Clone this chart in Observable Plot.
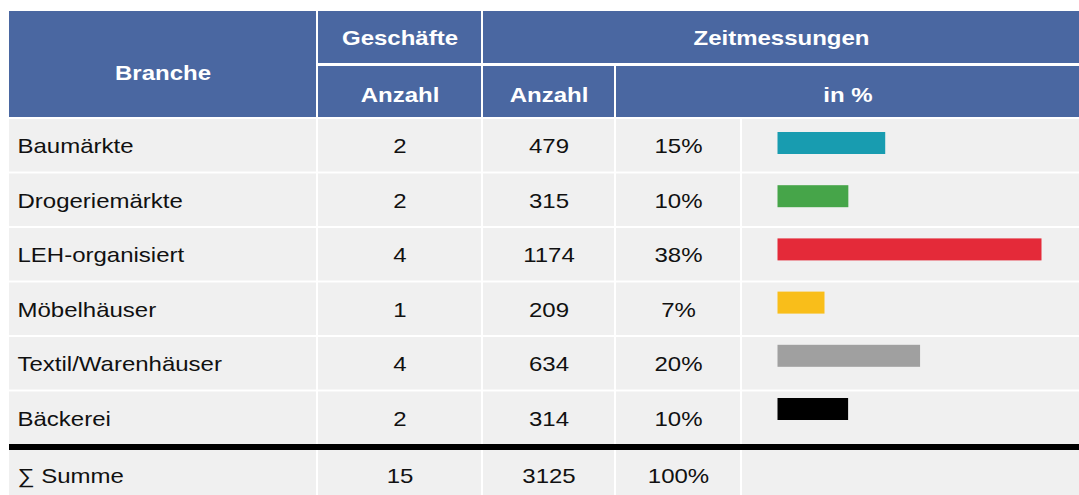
<!DOCTYPE html>
<html>
<head>
<meta charset="utf-8">
<script src="https://cdn.jsdelivr.net/npm/d3@7"></script>
<script src="https://cdn.jsdelivr.net/npm/@observablehq/plot@0.6"></script>
<style>
  html, body { margin: 0; padding: 0; background: #ffffff; }
  #chart { position: relative; width: 1079px; height: 495px; overflow: hidden; }
  #chart svg { position: absolute; left: 0; top: 0; }
</style>
</head>
<body>
<div id="chart"></div>
<script>
// ---- data ----
const branchen = ["Baumärkte", "Drogeriemärkte", "LEH-organisiert", "Möbelhäuser", "Textil/Warenhäuser", "Bäckerei"];
const geschaefte = [2, 2, 4, 1, 4, 2];
const messungen = [479, 315, 1174, 209, 634, 314];
const anteile = ["15%", "10%", "38%", "7%", "20%", "10%"];
const barColors = ["#189CB0", "#46A549", "#E42A39", "#F9BE1A", "#A0A0A0", "#000000"];
const summeLabel = "∑ Summe";
const summeGeschaefte = 15;
const summeMessungen = 3125;
const summeAnteil = "100%";
const headerTop = ["Branche", "Geschäfte", "Zeitmessungen"];
const headerSub = ["Anzahl", "Anzahl", "in %"];

// ---- layout (table chrome) ----
const FONT = "'Liberation Sans', Arial, Helvetica, sans-serif";
const HEADER_BLUE = "#4A67A1";
const CELL_BG = "#F0F0F0";
const TEXT = "#111111";
const STRETCH = 1.2;
const layoutCols = [
  {x1: 9, x2: 316}, {x1: 318, x2: 481}, {x1: 483, x2: 614}, {x1: 616, x2: 740}, {x1: 742, x2: 1079}
];
const textX = {branche: 17, geschaefte: 399.5, anzahl: 548.5, anteil: 678};
const headerCells = [
  {label: headerTop[0], x1: 9,   x2: 316,  y1: 11, y2: 117, ty: 73},
  {label: headerTop[1], x1: 318, x2: 481,  y1: 11, y2: 63,  ty: 38},
  {label: headerTop[2], x1: 483, x2: 1079, y1: 11, y2: 63,  ty: 38},
  {label: headerSub[0], x1: 318, x2: 481,  y1: 66, y2: 117, ty: 95},
  {label: headerSub[1], x1: 483, x2: 614,  y1: 66, y2: 117, ty: 95},
  {label: headerSub[2], x1: 616, x2: 1079, y1: 66, y2: 117, ty: 95}
];
const ROW_STEP = 54.5;
const BODY_TOP = 117;

// ---- table rows built from the data arrays ----
const rows = branchen.map((b, i) => ({
  branche: b, geschaefte: geschaefte[i], anzahl: messungen[i], anteil: anteile[i], color: barColors[i]
}));
const summe = {branche: summeLabel, geschaefte: summeGeschaefte, anzahl: summeMessungen, anteil: summeAnteil};
const rowKeys = [...branchen, summeLabel];
const cells = rowKeys.flatMap(r => layoutCols.map(c => ({row: r, x1: c.x1, x2: c.x2})));

function textMarks(data, dy) {
  const common = {y: "branche", fill: TEXT, dy};
  return [
    Plot.text(data, {...common, x: textX.branche, text: "branche", textAnchor: "start"}),
    Plot.text(data, {...common, x: textX.geschaefte, text: d => String(d.geschaefte)}),
    Plot.text(data, {...common, x: textX.anzahl, text: d => String(d.anzahl)}),
    Plot.text(data, {...common, x: textX.anteil, text: "anteil"})
  ];
}

// the reference typeface is horizontally wider than Arial: stretch glyphs about their anchor
function stretchTexts(svg) {
  svg.querySelectorAll("text").forEach(t => {
    const tr = t.getAttribute("transform") || "";
    if (t.hasAttribute("x")) {
      const x = +t.getAttribute("x") || 0;
      t.setAttribute("x", 0);
      t.setAttribute("transform", `${tr} translate(${x},0) scale(${STRETCH},1)`);
    } else {
      t.setAttribute("transform", `${tr} scale(${STRETCH},1)`);
    }
  });
  return svg;
}

const chart = document.getElementById("chart");

// body table
const bodyPlot = Plot.plot({
  width: 1079, height: 495, margin: 0,
  style: {background: "transparent", fontFamily: FONT, fontSize: "20px"},
  x: {type: "identity"},
  y: {type: "band", domain: rowKeys, range: [BODY_TOP, BODY_TOP + rowKeys.length * ROW_STEP], padding: 0, round: false, axis: null},
  marks: [
    Plot.barX(cells, {x1: "x1", x2: "x2", y: "row", fill: CELL_BG, insetTop: 2}),
    Plot.barX([summeLabel], {x1: 9, x2: 1079, y: d => d, fill: "#000000", insetBottom: ROW_STEP - 6}),
    ...textMarks(rows, 2),
    ...textMarks([summe], 5)
  ]
});
chart.appendChild(stretchTexts(bodyPlot));

// header
const headerPlot = Plot.plot({
  width: 1079, height: 119, margin: 0,
  style: {background: "transparent", fontFamily: FONT, fontSize: "20px"},
  x: {type: "identity"},
  y: {type: "identity"},
  marks: [
    Plot.rect(headerCells, {x1: "x1", x2: "x2", y1: "y1", y2: "y2", fill: HEADER_BLUE}),
    Plot.text(headerCells, {x: d => (d.x1 + d.x2) / 2, y: "ty", text: "label", fill: "#ffffff", fontWeight: "bold"})
  ]
});
chart.appendChild(stretchTexts(headerPlot));

// bars (share of measurements)
const barPlot = Plot.plot({
  width: 1079, height: 495, margin: 0,
  style: {background: "transparent"},
  x: {domain: [0, 1174], range: [777.5, 1041.5], axis: null},
  y: {type: "band", domain: branchen, range: [116.4, 435.6], paddingInner: 0.5865, paddingOuter: 0.29325, round: false, axis: null},
  color: {type: "identity"},
  marks: [
    Plot.barX(rows, {x: "anzahl", y: "branche", fill: "color"})
  ]
});
chart.appendChild(barPlot);
</script>
</body>
</html>
